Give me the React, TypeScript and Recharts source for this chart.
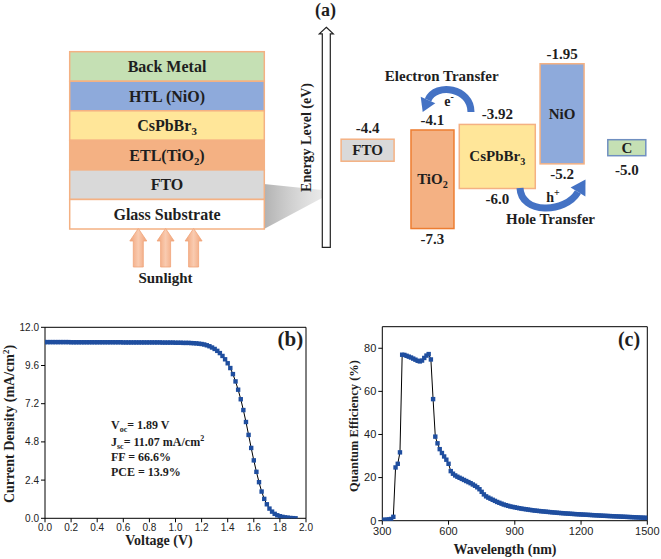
import React from 'react';
import { ComposedChart, LineChart, Line, Bar, Scatter, XAxis, YAxis, ReferenceLine } from 'recharts';

const SERIF = "'Times New Roman', 'Liberation Serif', Times, serif";
const SANS = "Arial, 'Liberation Sans', Helvetica, sans-serif";
const INK = '#1e1e1e';
const MARK = '#1f4e9f';

// (a) device stack, top to bottom
const layers = ['Back Metal', 'HTL (NiO)', 'CsPbBr3', 'ETL(TiO2)', 'FTO', 'Glass Substrate'];
const layerFills = ['#c5e0b4', '#8eaadb', '#ffe699', '#f4b183', '#d9d9d9', '#ffffff'];

// (a) energy levels in eV
const materials = ['FTO', 'TiO2', 'CsPbBr3', 'NiO', 'C'];
const conductionBand = [null, -4.1, -3.92, -1.95, null];
const valenceBand = [null, -7.3, -6.0, -5.2, null];
const workFunction = [-4.4, null, null, null, -5.0];

// (b) J-V curve
const voltage = [
  0, 0.02, 0.04, 0.06, 0.08, 0.1, 0.12, 0.14, 0.16, 0.18,
  0.2, 0.22, 0.24, 0.26, 0.28, 0.3, 0.32, 0.34, 0.36, 0.38,
  0.4, 0.42, 0.44, 0.46, 0.48, 0.5, 0.52, 0.54, 0.56, 0.58,
  0.6, 0.62, 0.64, 0.66, 0.68, 0.7, 0.72, 0.74, 0.76, 0.78,
  0.8, 0.82, 0.84, 0.86, 0.88, 0.9, 0.92, 0.94, 0.96, 0.98,
  1.0, 1.02, 1.04, 1.06, 1.08, 1.1, 1.12, 1.14, 1.16, 1.18,
  1.2, 1.22, 1.24, 1.26, 1.28, 1.3, 1.32, 1.34, 1.36, 1.38,
  1.4, 1.42, 1.44, 1.46, 1.48, 1.5, 1.52, 1.54, 1.56, 1.58,
  1.6, 1.62, 1.64, 1.66, 1.68, 1.7, 1.72, 1.74, 1.76, 1.78,
  1.8, 1.82, 1.84, 1.86, 1.88, 1.9, 1.92,
];
const currentDensity = [
  11.07, 11.07, 11.07, 11.07, 11.07, 11.07, 11.07, 11.07, 11.07, 11.07,
  11.06, 11.06, 11.06, 11.06, 11.06, 11.06, 11.06, 11.06, 11.06, 11.06,
  11.06, 11.06, 11.06, 11.06, 11.06, 11.06, 11.06, 11.06, 11.06, 11.06,
  11.05, 11.05, 11.05, 11.05, 11.05, 11.05, 11.05, 11.05, 11.05, 11.05,
  11.05, 11.05, 11.05, 11.05, 11.05, 11.04, 11.04, 11.04, 11.04, 11.04,
  11.03, 11.03, 11.03, 11.02, 11.02, 11.02, 11.01, 11.0, 10.99, 10.97,
  10.95, 10.92, 10.87, 10.81, 10.73, 10.64, 10.52, 10.38, 10.2, 9.99,
  9.74, 9.44, 9.06, 8.6, 8.08, 7.48, 6.8, 6.05, 5.24, 4.42,
  3.64, 2.92, 2.27, 1.68, 1.22, 0.88, 0.61, 0.42, 0.28, 0.19,
  0.13, 0.09, 0.06, 0.04, 0.02, 0.01, 0.0,
];
const voltageTicks = [0, 0.2, 0.4, 0.6, 0.8, 1.0, 1.2, 1.4, 1.6, 1.8, 2.0];
const currentTicks = [0, 2.4, 4.8, 7.2, 9.6, 12];

// (c) quantum efficiency
const wavelength = [
  300, 310, 320, 330, 340, 350, 360, 370, 380, 390,
  400, 410, 420, 430, 440, 450, 460, 470, 480, 490,
  500, 510, 520, 530, 540, 550, 560, 570, 580, 590,
  600, 610, 620, 630, 640, 650, 660, 670, 680, 690,
  700, 710, 720, 730, 740, 750, 760, 770, 780, 790,
  800, 810, 820, 830, 840, 850, 860, 870, 880, 890,
  900, 910, 920, 930, 940, 950, 960, 970, 980, 990,
  1000, 1010, 1020, 1030, 1040, 1050, 1060, 1070, 1080, 1090,
  1100, 1110, 1120, 1130, 1140, 1150, 1160, 1170, 1180, 1190,
  1200, 1210, 1220, 1230, 1240, 1250, 1260, 1270, 1280, 1290,
  1300, 1310, 1320, 1330, 1340, 1350, 1360, 1370, 1380, 1390,
  1400, 1410, 1420, 1430, 1440, 1450, 1460, 1470, 1480, 1490,
  1500,
];
const quantumEfficiency = [
  0.4, 0.4, 0.5, 0.6, 0.8, 1.8, 24.7, 26.4, 31.7, 77.0,
  76.9, 76.5, 76.1, 75.7, 75.2, 74.7, 74.2, 73.9, 74.3, 75.5,
  76.6, 77.3, 74.8, 56.4, 39.0, 35.9, 33.2, 31.4, 29.8, 28.3,
  26.4, 23.0, 21.8, 21.0, 20.4, 19.9, 19.4, 18.9, 18.4, 17.9,
  17.4, 16.8, 16.2, 15.5, 14.6, 13.4, 12.2, 11.3, 10.7, 10.2,
  9.7, 9.2, 8.7, 8.3, 7.9, 7.5, 7.2, 6.9, 6.6, 6.4,
  6.2, 6.0, 5.8, 5.6, 5.45, 5.3, 5.15, 5.0, 4.85, 4.7,
  4.6, 4.49, 4.38, 4.28, 4.18, 4.08, 3.98, 3.88, 3.79, 3.7,
  3.61, 3.53, 3.45, 3.37, 3.3, 3.23, 3.16, 3.09, 3.02, 2.96,
  2.9, 2.84, 2.78, 2.72, 2.66, 2.6, 2.54, 2.48, 2.42, 2.36,
  2.3, 2.25, 2.2, 2.15, 2.1, 2.05, 2.0, 1.95, 1.9, 1.85,
  1.8, 1.75, 1.7, 1.65, 1.6, 1.55, 1.5, 1.45, 1.4, 1.35,
  1.3,
];
const wavelengthTicks = [300, 600, 900, 1200, 1500];
const qeTicks = [0, 20, 40, 60, 80];

const bandData = materials.map((name, i) => ({
  name,
  cb: conductionBand[i],
  vb: valenceBand[i],
  wf: workFunction[i],
  band: conductionBand[i] == null ? null : [valenceBand[i], conductionBand[i]],
}));
const jvData = voltage.map((v, i) => ({ v, j: currentDensity[i] }));
const qeData = wavelength.map((w, i) => ({ w, qe: quantumEfficiency[i] }));

const boxStyle: Record<string, { w: number; h?: number; fill: string; stroke: string }> = {
  FTO: { w: 53, h: 22, fill: '#d9d9d9', stroke: '#f4b183' },
  TiO2: { w: 43, fill: '#f4b183', stroke: '#ed7d31' },
  CsPbBr3: { w: 76, fill: '#ffe699', stroke: '#f4b183' },
  NiO: { w: 44, fill: '#8eaadb', stroke: '#f4b183' },
  C: { w: 38, h: 16, fill: '#c5e0b4', stroke: '#6f8fc0' },
};

const fmt = (v: number) => (Number.isInteger(v) ? v.toFixed(1) : String(v));

// digits in chemical names become subscripts
const formula = (label: string, size: number) => {
  const parts = label.split(/(\d)/).filter((p) => p !== '');
  let shifted = false;
  return parts.map((p, i) => {
    if (/^\d$/.test(p)) {
      shifted = true;
      return (
        <tspan key={i} fontSize={size * 0.68} dy={size * 0.25}>
          {p}
        </tspan>
      );
    }
    const dy = shifted ? -size * 0.25 : undefined;
    shifted = false;
    return (
      <tspan key={i} dy={dy}>
        {p}
      </tspan>
    );
  });
};

const lbl = { fontFamily: SERIF, fontWeight: 700, fill: INK, textAnchor: 'middle' as const };

const BandShape = (props: any) => {
  const { x, y, width, height, payload } = props;
  const s = boxStyle[payload?.name];
  if (!s || payload.cb == null) return <g />;
  const cx = x + width / 2;
  const top = Math.min(y, y + height);
  const h = Math.abs(height);
  return (
    <g>
      <rect x={cx - s.w / 2} y={top} width={s.w} height={h} fill={s.fill} stroke={s.stroke} strokeWidth={1.5} />
      <text x={cx} y={top - 5} fontSize={15} {...lbl}>{fmt(payload.cb)}</text>
      <text x={cx} y={top + h + 15} fontSize={15} {...lbl}>{fmt(payload.vb)}</text>
      <text x={cx} y={top + h / 2 + 5} fontSize={15} {...lbl}>{formula(payload.name, 15)}</text>
    </g>
  );
};

const LevelShape = (props: any) => {
  const { cx, cy, payload } = props;
  const s = boxStyle[payload?.name];
  if (!s || payload.wf == null || cx == null || cy == null) return <g />;
  // FTO box hangs below its level, C box sits on top of it
  const below = payload.name === 'FTO';
  const h = s.h || 20;
  const top = below ? cy : cy - h - 2;
  return (
    <g>
      <rect x={cx - s.w / 2} y={top} width={s.w} height={h} fill={s.fill} stroke={s.stroke} strokeWidth={1.5} />
      <text x={cx} y={top + h / 2 + 5} fontSize={15} {...lbl}>{payload.name}</text>
      <text x={cx} y={below ? top - 6 : top + h + 19} fontSize={15} {...lbl}>{fmt(payload.wf)}</text>
    </g>
  );
};

const SquareDot = (props: any) => {
  const { cx, cy, index } = props;
  if (cx == null || cy == null) return <g key={index} />;
  return <rect key={index} x={cx - 2.2} y={cy - 2.2} width={4.4} height={4.4} fill={MARK} />;
};

const SunArrow = ({ cx }: { cx: number }) => (
  <polygon
    points={`${cx},228.5 ${cx + 8.5},241 ${cx + 5},241 ${cx + 5},267 ${cx - 5},267 ${cx - 5},241 ${cx - 8.5},241`}
    fill="url(#sun)"
    stroke="#f0a47a"
    strokeWidth={0.8}
  />
);

export default function App() {
  const tickB = { fontSize: 10, fill: '#222', fontFamily: SANS };
  const tickC = { fontSize: 11, fill: '#222', fontFamily: SANS };
  return (
    <div style={{ position: 'absolute', left: 0, top: 0, width: 661, height: 559, background: '#fff', overflow: 'hidden' }}>
      {/* (a) energy band diagram */}
      <div style={{ position: 'absolute', left: 330, top: 0 }}>
        <ComposedChart width={331} height={260} data={bandData} margin={{ top: 34.5, right: 1.8, bottom: 9.9, left: 5.2 }}>
          <XAxis dataKey="name" hide />
          <YAxis type="number" domain={[-8, -1]} hide allowDataOverflow />
          <Bar dataKey="band" shape={BandShape} isAnimationActive={false} />
          <Scatter dataKey="wf" shape={LevelShape} isAnimationActive={false} />
        </ComposedChart>
      </div>

      {/* (b) J-V */}
      <div style={{ position: 'absolute', left: 0, top: 310 }}>
        <LineChart width={320} height={249} data={jvData} margin={{ top: 17.3, right: 14, bottom: 10.7, left: 0 }}>
          <XAxis type="number" dataKey="v" domain={[0, 2]} ticks={voltageTicks} interval={0}
            tickFormatter={(v: number) => v.toFixed(1)} tick={tickB} tickSize={4} stroke="#000" height={30} allowDataOverflow />
          <YAxis type="number" domain={[0, 12]} ticks={currentTicks} interval={0}
            tickFormatter={(v: number) => v.toFixed(1)} tick={tickB} tickSize={4} stroke="#000" width={45} allowDataOverflow />
          <ReferenceLine y={12} stroke="#000" />
          <ReferenceLine x={2} stroke="#000" />
          <Line dataKey="j" stroke="#000" strokeWidth={1} dot={SquareDot} isAnimationActive={false} />
        </LineChart>
      </div>

      {/* (c) QE */}
      <div style={{ position: 'absolute', left: 330, top: 310 }}>
        <LineChart width={331} height={249} data={qeData} margin={{ top: 16.7, right: 13.7, bottom: 8.3, left: 0 }}>
          <XAxis type="number" dataKey="w" domain={[300, 1500]} ticks={wavelengthTicks} interval={0}
            tick={tickC} tickSize={4} stroke="#000" height={30} allowDataOverflow />
          <YAxis type="number" domain={[0, 90]} ticks={qeTicks} interval={0}
            tick={tickC} tickSize={4} stroke="#000" width={52.3} allowDataOverflow />
          <ReferenceLine y={90} stroke="#000" />
          <ReferenceLine x={1500} stroke="#000" />
          <Line dataKey="qe" stroke="#000" strokeWidth={1} dot={SquareDot} isAnimationActive={false} />
        </LineChart>
      </div>

      <svg width={661} height={559} style={{ position: 'absolute', left: 0, top: 0, pointerEvents: 'none' }}>
        <defs>
          <linearGradient id="shadow" x1="0" x2="1" y1="0" y2="0">
            <stop offset="0" stopColor="#a9a9a9" stopOpacity={0.9} />
            <stop offset="1" stopColor="#d4d4d4" stopOpacity={0.5} />
          </linearGradient>
          <linearGradient id="sun" x1="0" x2="1" y1="0" y2="0">
            <stop offset="0" stopColor="#f1a277" />
            <stop offset="0.5" stopColor="#f9cbb0" />
            <stop offset="1" stopColor="#f1a277" />
          </linearGradient>
        </defs>

        {/* device stack */}
        <polygon points="264,184 322,190 322,198 264,229" fill="url(#shadow)" />
        {layers.map((name, i) => {
          const y = 51.7 + i * 29.55;
          return (
            <g key={name}>
              <rect x={69.7} y={y} width={194.6} height={29.55} fill={layerFills[i]} stroke="#f4b183" strokeWidth={1.5} />
              <text x={167} y={y + 20.3} fontSize={16} {...lbl}>{formula(name, 16)}</text>
            </g>
          );
        })}
        <SunArrow cx={138.3} />
        <SunArrow cx={165.6} />
        <SunArrow cx={193.6} />
        <text x={165.5} y={283} fontSize={15} {...lbl}>Sunlight</text>

        {/* energy axis */}
        <polygon points="326.3,27.3 333.3,33.8 330.3,33.8 330.3,247.3 322.3,247.3 322.3,33.8 319.3,33.8"
          fill="#fff" stroke="#222" strokeWidth={1.2} />
        <text x={306} y={142.5} fontSize={14} transform="rotate(-90 306 137.5)" {...lbl}>Energy Level (eV)</text>
        <text x={325.5} y={15.5} fontSize={18} {...lbl}>(a)</text>

        {/* charge transfer arrows */}
        <path d="M 471 112 C 471 88, 436 82, 428 100" fill="none" stroke="#4472c4" strokeWidth={7} />
        <polygon points="422.7,112 435.3,103.2 420.7,96.8" fill="#4472c4" />
        <text x={449} y={106} fontSize={14} {...lbl}>e<tspan fontSize={10} dy={-6}>-</tspan></text>
        <text x={441.7} y={81} fontSize={15} {...lbl}>Electron Transfer</text>

        <path d="M 520 188 C 521 214, 565 214, 578 192" fill="none" stroke="#4472c4" strokeWidth={7} />
        <polygon points="585.5,179.5 585.4,196.6 570.6,187.4" fill="#4472c4" />
        <text x={553} y={202} fontSize={14} {...lbl}>h<tspan fontSize={10} dy={-6}>+</tspan></text>
        <text x={550.5} y={224} fontSize={15} {...lbl}>Hole Transfer</text>

        {/* (b) labels */}
        <text x={290.3} y={346} fontSize={21} {...lbl}>(b)</text>
        <text x={159} y={545} fontSize={14} {...lbl}>Voltage (V)</text>
        <text x={8.7} y={429} fontSize={14} transform="rotate(-90 8.7 424)" {...lbl}>
          Current Density (mA/cm<tspan fontSize={9} dy={-5}>2</tspan><tspan dy={5}>)</tspan>
        </text>
        <g fontFamily={SERIF} fontWeight={700} fontSize={12} fill={INK}>
          <text x={111} y={428.8}>V<tspan fontSize={8} dy={3}>oc</tspan><tspan dy={-3}>= 1.89 V</tspan></text>
          <text x={111} y={446.3}>J<tspan fontSize={8} dy={3}>sc</tspan><tspan dy={-3}>= 11.07 mA/cm</tspan><tspan fontSize={8} dy={-5}>2</tspan></text>
          <text x={111} y={461}>FF = 66.6%</text>
          <text x={111} y={475.5}>PCE = 13.9%</text>
        </g>

        {/* (c) labels */}
        <text x={629} y={346} fontSize={20} {...lbl}>(c)</text>
        <text x={505} y={554} fontSize={14} {...lbl}>Wavelength (nm)</text>
        <text x={353.3} y={430.5} fontSize={12.5} transform="rotate(-90 353.3 426)" {...lbl}>Quantum Efficiency (%)</text>
      </svg>
    </div>
  );
}
